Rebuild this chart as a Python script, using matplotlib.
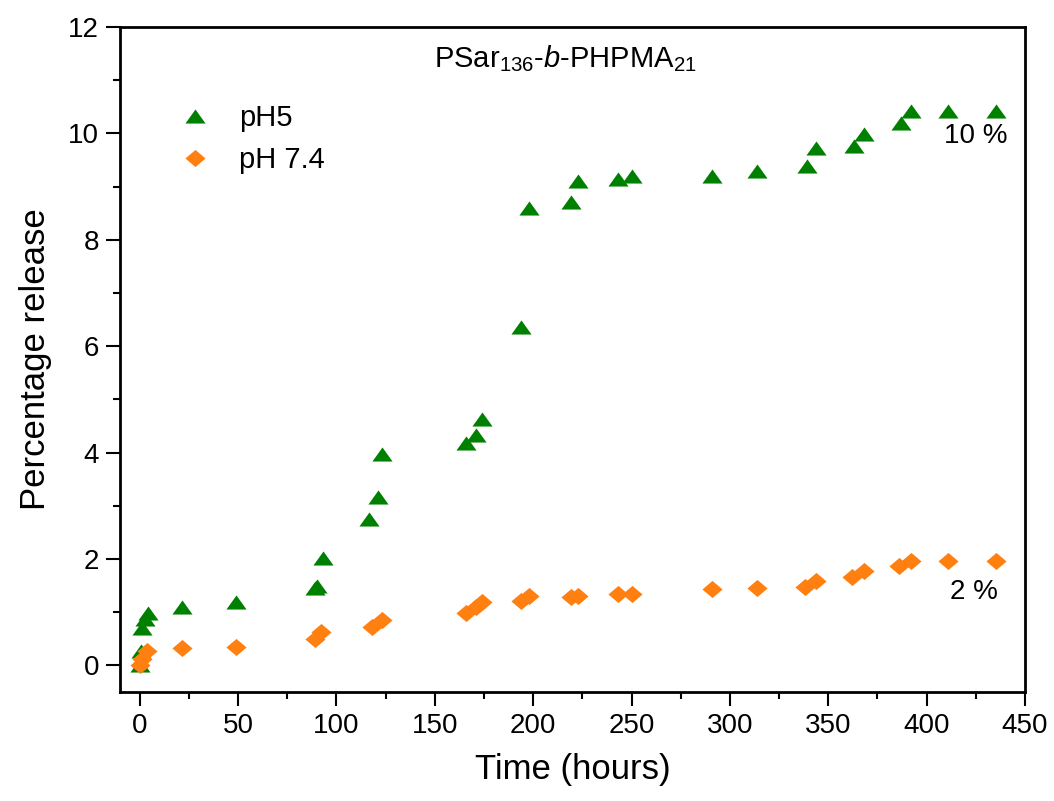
import matplotlib
matplotlib.use('Agg')
import matplotlib.pyplot as plt
from matplotlib.ticker import MultipleLocator

plt.rcParams['font.family'] = ['Liberation Sans', 'DejaVu Sans']
plt.rcParams['mathtext.fontset'] = 'custom'
plt.rcParams['mathtext.rm'] = 'Liberation Sans'
plt.rcParams['mathtext.it'] = 'Liberation Sans:italic'

# pH 5 series (hours, % release)
time_ph5 = [0, 0.5, 1, 2.5, 4, 21.5, 49, 89, 90, 93, 116.5, 121, 123, 166, 171, 174,
            194, 198, 219, 223, 243, 250, 291, 314, 339, 344, 363, 368, 387, 392, 411, 435]
release_ph5 = [0.0, 0.28, 0.7, 0.88, 0.98, 1.1, 1.2, 1.45, 1.5, 2.02, 2.75, 3.17, 3.98, 4.19, 4.34, 4.64,
               6.36, 8.6, 8.72, 9.1, 9.15, 9.2, 9.2, 9.3, 9.38, 9.72, 9.77, 9.98, 10.19, 10.43, 10.43, 10.43]

# pH 7.4 series
time_ph74 = [0, 1, 3.5, 21.5, 49, 89, 92, 118, 123, 166, 171, 174, 194, 198,
             219, 223, 243, 250, 291, 314, 338, 344, 362, 368, 386, 392, 411, 435]
release_ph74 = [0.0, 0.13, 0.28, 0.32, 0.35, 0.5, 0.62, 0.72, 0.86, 0.98, 1.1, 1.19, 1.22, 1.3,
                1.28, 1.31, 1.34, 1.34, 1.43, 1.45, 1.48, 1.59, 1.67, 1.78, 1.86, 1.97, 1.97, 1.97]

green = '#008000'
orange = '#FF8010'

# flattened marker shapes (the original figure is a bit stretched)
tri = [(-1, -0.7), (1, -0.7), (0, 0.7), (-1, -0.7)]
diamond = [(-1, 0), (0, 0.85), (1, 0), (0, -0.85), (-1, 0)]

fig = plt.figure(figsize=(10.54, 8.01), dpi=100)
ax = fig.add_axes([0.1139, 0.136, 0.8586, 0.8303])

ax.plot(time_ph5, release_ph5, linestyle='none', marker=tri, markersize=14.5,
        color=green, markeredgewidth=0, label='pH5')
ax.plot(time_ph74, release_ph74, linestyle='none', marker=diamond, markersize=14.5,
        color=orange, markeredgewidth=0, label='pH 7.4')

ax.set_xlim(-10, 450)
ax.set_ylim(-0.5, 12)
ax.xaxis.set_major_locator(MultipleLocator(50))
ax.xaxis.set_minor_locator(MultipleLocator(25))
ax.yaxis.set_major_locator(MultipleLocator(2))
ax.yaxis.set_minor_locator(MultipleLocator(1))
ax.tick_params(which='major', direction='out', length=10, width=1.5, labelsize=20, pad=5)
ax.tick_params(which='minor', direction='out', length=5, width=1.5)
ax.tick_params(top=False, right=False, which='both')
for s in ax.spines.values():
    s.set_linewidth(2)

ax.set_xlabel('Time (hours)', fontsize=25, labelpad=10)
ax.set_ylabel('Percentage release', fontsize=25, labelpad=12)

ax.text(0.492, 0.952, r'PSar$_{136}$-$\mathit{b}$-PHPMA$_{21}$', transform=ax.transAxes,
        fontsize=21, ha='center', va='center')
ax.text(425, 9.96, '10 %', fontsize=20, ha='center', va='center')
ax.text(424, 1.38, '2 %', fontsize=20, ha='center', va='center')

ax.legend(loc='upper left', bbox_to_anchor=(0.038, 0.902), frameon=False, fontsize=21,
          handletextpad=0.5, labelspacing=0.5, borderaxespad=0)

fig.savefig('out.png', dpi=100)
